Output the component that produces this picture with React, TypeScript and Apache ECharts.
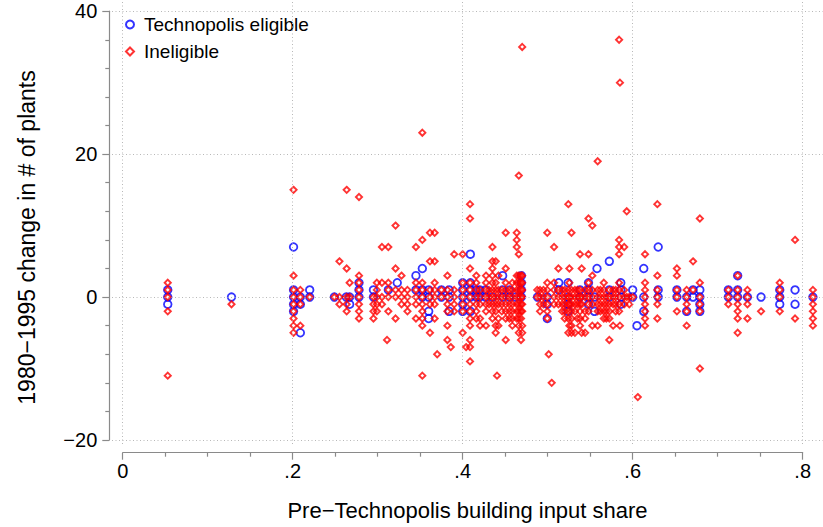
import React, { useEffect, useRef } from "react";
import * as echarts from "echarts";

// ---- data (x = pre-Technopolis building input share, y = 1980-1995 change in # of plants)
const X_TICKS = [0, 0.2, 0.4, 0.6, 0.8];
const X_TICK_LABELS = ["0", ".2", ".4", ".6", ".8"];
const Y_TICKS = [-20, 0, 20, 40];
const Y_TICK_LABELS = ["\u221220", "0", "20", "40"];

const SERIES_NAMES = ["Technopolis eligible", "Ineligible"];
const X_TITLE = "Pre\u2212Technopolis building input share";
const Y_TITLE = "1980\u22121995 change in # of plants";

// columns: [x, list of y values at that x]
const eligibleCols: [number, number[]][] = [
  [0.053, [1, 0, -1]],
  [0.128, [0]],
  [0.201, [7, 1, 0, -1, -2]],
  [0.209, [0, -1, -5]],
  [0.22, [1, 0]],
  [0.249, [0]],
  [0.263, [0]],
  [0.267, [0, -1]],
  [0.278, [2, 1, 0]],
  [0.295, [1, 0]],
  [0.3125, [1]],
  [0.323, [2]],
  [0.345, [3, 1]],
  [0.3525, [4, 1, 0]],
  [0.36, [1, 0, -2, -3]],
  [0.375, [1, 0]],
  [0.384, [1, 0, -2]],
  [0.4, [2, 1, 0, -1, -2]],
  [0.409, [6, 2, 1, 0, -2]],
  [0.416, [1, 0]],
  [0.42, [1, 0]],
  [0.427, [1, 0]],
  [0.435, [0]],
  [0.447, [3, 1, 0]],
  [0.455, [1, 0]],
  [0.462, [0]],
  [0.469, [3, 2, 1, 0]],
  [0.488, [0]],
  [0.4995, [0, -1, -3]],
  [0.513, [2, 1]],
  [0.524, [2, 0, -1, -2]],
  [0.538, [1, 0]],
  [0.548, [2, 1, 0, -1]],
  [0.555, [0, -2]],
  [0.558, [4]],
  [0.5725, [5, 1, 0]],
  [0.586, [2, 1, 0, -1]],
  [0.6, [1, 0]],
  [0.605, [-4]],
  [0.613, [4, 0, -2]],
  [0.63, [7, 1, 0]],
  [0.652, [1, 0]],
  [0.6635, [0, -2]],
  [0.671, [1, 0]],
  [0.679, [1, 0, -1, -2]],
  [0.7125, [1, 0]],
  [0.7235, [3, 1, 0]],
  [0.735, [0]],
  [0.751, [0]],
  [0.773, [1, 0, -1]],
  [0.791, [1, -1]],
  [0.812, [0]],
];

const ineligibleCols: [number, number[]][] = [
  [0.053, [2, 1, 0, -2, -11]],
  [0.128, [-1]],
  [0.201, [15, 3, 1, 0, -1, -2, -3, -4, -5]],
  [0.209, [1, 0, -1, -4]],
  [0.22, [0]],
  [0.249, [0]],
  [0.255, [5, 0, -1]],
  [0.2635, [15, 4, 0, -1, -2]],
  [0.267, [2, 0]],
  [0.278, [14, 3, 2, 1, 0, -1, -2, -3]],
  [0.295, [0, -1, -2, -3]],
  [0.299, [2, 1, 0, -1, -2]],
  [0.305, [7, 2, 0, -1]],
  [0.311, [-6]],
  [0.3125, [7, 2, 1, 0, -2]],
  [0.321, [10, 4, 1, 0, -3]],
  [0.328, [3, 1, 0, -1]],
  [0.335, [1, 0, -1, -2]],
  [0.345, [7, 2, 1, 0, -1, -3]],
  [0.3525, [23, 8, 2, 1, 0, -1, -2, -3, -4, -11]],
  [0.3615, [9, 5, 1, 0, -1, -5]],
  [0.367, [9, 5, 2, 1, 0, -1, -3]],
  [0.37, [-8]],
  [0.375, [1, 0]],
  [0.382, [3, 1, 0, -1, -2, -4, -6]],
  [0.386, [-7]],
  [0.39, [6, 1, 0, -1, -2]],
  [0.4, [6, 2, 1, 0, -1, -2, -5]],
  [0.404, [-7]],
  [0.4086, [13, 11, 4, 2, 1, 0, -1, -2, -3, -4, -6, -7, -9]],
  [0.416, [3, 2, 1, 0, -1, -2, -3]],
  [0.4204, [1, 0, -1, -3, -4]],
  [0.4274, [3, 2, 1, 0, -1, -2, -4]],
  [0.431, [1, 0, -1]],
  [0.435, [7, 5, 4, 3, 2, 1, 0, -1, -2, -3]],
  [0.4388, [5, 2, 1, 0, -1, -2, -4, -5]],
  [0.4404, [-11]],
  [0.442, [3, 1, 0, -1, -3, -4]],
  [0.446, [1, 0, -1, -2]],
  [0.4506, [9, 4, 2, 1, 0, -1, -2, -3, -6]],
  [0.455, [1, 0, -1, -2, -3]],
  [0.4584, [2, 1, 0, -1, -2, -3, -4]],
  [0.4636, [9, 8, 7, 3, 2, 1, 0, -1, -2, -3]],
  [0.466, [17, 6, 3, 2, 1, 0, -1, -2, -3, -4, -5]],
  [0.4686, [3, 2, 1, 0, -1, -2, -3, -6]],
  [0.47, [35, 3, 2, 1, 0, -1, -2, -4, -5]],
  [0.4877, [1, 0]],
  [0.491, [1, 0, -1, -2]],
  [0.495, [1, 0, -1]],
  [0.4995, [9, 2, 1, 0, -1, -2, -3]],
  [0.5012, [-8]],
  [0.5047, [-12]],
  [0.5075, [7, 2, 1, 0, -1]],
  [0.5126, [4, 1, 0, -1]],
  [0.517, [1, 0, -1, -2]],
  [0.52, [1, 0, -1, -2, -3]],
  [0.5243, [13, 1, 0, -1, -2, -3, -5]],
  [0.5255, [4, 2, 0, -1, -4]],
  [0.528, [9, 1, 0, -1, -2, -3, -4, -5]],
  [0.532, [1, 0, -1, -2, -5]],
  [0.535, [1, 0, -1, -3]],
  [0.538, [6, 1, 0, -1, -2, -3, -4]],
  [0.54, [4, 0, -1, -5]],
  [0.544, [1, 0, -2, -3, -5]],
  [0.548, [11, 6, 2, 1, 0, -1, -2]],
  [0.5525, [10, 3, 1, 0, -1, -4]],
  [0.5588, [19, 1, 0, -1, -2, -4]],
  [0.562, [1, 0, -1, -2]],
  [0.566, [2, 1, 0, -1, -2, -3]],
  [0.569, [0, -1, -2, -3]],
  [0.5725, [1, 0, -1, -2, -3, -6]],
  [0.577, [1, 0, -1, -4]],
  [0.58, [1, 0, -1, -2]],
  [0.584, [36, 8, 7, 6, 2, 1, 0, -1, -2]],
  [0.585, [30, -4]],
  [0.59, [7, 1, 0, -1]],
  [0.593, [12, 0]],
  [0.596, [0, -1]],
  [0.6, [0]],
  [0.606, [-14]],
  [0.6145, [6, 2, 1, 0, -1, -2, -3, -4]],
  [0.629, [13, 3, 1, 0, -1, -3]],
  [0.652, [4, 3, 1, 0, -2]],
  [0.6635, [1, 0, -1, -2, -4]],
  [0.671, [5, 1]],
  [0.679, [11, 2, 0, -1, -2, -10]],
  [0.7125, [1, 0, -1]],
  [0.7235, [3, 1, 0, -1, -2, -3, -5]],
  [0.735, [1, 0, -1, -3]],
  [0.751, [-2]],
  [0.773, [2, 1, 0, -2]],
  [0.791, [8, -3]],
  [0.812, [1, 0, -1, -2, -3, -4]],
];

// ---- layout (pixels)
const W = 823;
const H = 527;
const FONT = "'Liberation Sans', Arial, Helvetica, sans-serif";
// axis frame (where 0..0.8 and -20..40 lie)
const AX_LEFT = 122.7;
const AX_RIGHT = 802.7;
const AX_TOP = 11.2;
const AX_BOTTOM = 440;
// plot region (gridlines span)
const PR_LEFT = 112;
const PR_RIGHT = 823;
const PR_TOP = 0;
const PR_BOTTOM = 444;

const flatten = (cols: [number, number[]][]) =>
  cols.flatMap(([x, ys]) => ys.map((y) => [x, y]));

export default function App() {
  const ref = useRef<HTMLDivElement>(null);
  useEffect(() => {
    if (!ref.current) return;
    const chart = echarts.init(ref.current, undefined, { renderer: "svg" });

    const xMin0 = X_TICKS[0], xMax0 = X_TICKS[X_TICKS.length - 1];
    const yMin0 = Y_TICKS[0], yMax0 = Y_TICKS[Y_TICKS.length - 1];
    const pxPerX = (AX_RIGHT - AX_LEFT) / (xMax0 - xMin0);
    const pxPerY = (AX_BOTTOM - AX_TOP) / (yMax0 - yMin0);
    const prXMin = xMin0 - (AX_LEFT - PR_LEFT) / pxPerX;
    const prXMax = xMax0 + (PR_RIGHT - AX_RIGHT) / pxPerX;
    const prYMax = yMax0 + (AX_TOP - PR_TOP) / pxPerY;
    const prYMin = yMin0 - (PR_BOTTOM - AX_BOTTOM) / pxPerY;

    const axisColor = "#8a8a8a";

    const option: any = {
      animation: false,
      backgroundColor: "#ffffff",
      textStyle: { fontFamily: FONT },
      grid: [
        { left: PR_LEFT, right: W - PR_RIGHT, top: PR_TOP, bottom: H - PR_BOTTOM },
        { left: AX_LEFT, right: W - AX_RIGHT, top: AX_TOP, bottom: H - AX_BOTTOM },
      ],
      xAxis: [
        {
          gridIndex: 0, type: "value", min: prXMin, max: prXMax, show: false,
          axisLine: { show: false, onZero: false }, splitLine: { show: false },
        },
        {
          gridIndex: 1,
          type: "value",
          min: xMin0,
          max: xMax0,
          interval: 0.2,
          position: "bottom",
          offset: 12.7,
          axisLine: { show: true, onZero: false, lineStyle: { color: axisColor, width: 1.2 } },
          axisTick: { show: true, length: 7, lineStyle: { color: axisColor, width: 1.2 } },
          minorTick: { show: true, splitNumber: 4, length: 4, lineStyle: { color: axisColor, width: 1.2 } },
          splitLine: { show: false },
          axisLabel: {
            margin: 8,
            fontSize: 20,
            color: "#000",
            fontFamily: FONT,
            formatter: (v: number) => {
              const i = X_TICKS.findIndex((t) => Math.abs(t - v) < 1e-6);
              return i >= 0 ? X_TICK_LABELS[i] : "";
            },
          },
        },
      ],
      yAxis: [
        {
          gridIndex: 0, type: "value", min: prYMin, max: prYMax, show: false,
          axisLine: { show: false, onZero: false }, splitLine: { show: false },
        },
        {
          gridIndex: 1,
          type: "value",
          min: yMin0,
          max: yMax0,
          interval: 20,
          position: "left",
          offset: 13.4,
          axisLine: { show: true, onZero: false, lineStyle: { color: axisColor, width: 1.2 } },
          axisTick: { show: true, length: 7, lineStyle: { color: axisColor, width: 1.2 } },
          minorTick: { show: true, splitNumber: 5, length: 4, lineStyle: { color: axisColor, width: 1.2 } },
          splitLine: { show: false },
          axisLabel: {
            margin: 12,
            fontSize: 20,
            color: "#000",
            fontFamily: FONT,
            formatter: (v: number) => {
              const i = Y_TICKS.findIndex((t) => Math.abs(t - v) < 1e-6);
              return i >= 0 ? Y_TICK_LABELS[i] : "";
            },
          },
        },
      ],
      legend: {
        show: true,
        data: SERIES_NAMES,
        orient: "vertical",
        left: 125,
        top: 14,
        padding: 0,
        itemWidth: 8,
        itemHeight: 8,
        itemGap: 6,
        symbolKeepAspect: true,
        selectedMode: false,
        textStyle: {
          fontSize: 19,
          color: "#000",
          fontFamily: FONT,
          lineHeight: 21,
          padding: [0, 0, 0, 5],
        },
      },
      series: [
        {
          name: SERIES_NAMES[0],
          type: "scatter",
          xAxisIndex: 0,
          yAxisIndex: 0,
          z: 2,
          symbol: "circle",
          symbolSize: 7.6,
          itemStyle: { color: "rgba(0,0,0,0)", borderColor: "#0000ff", borderWidth: 1.8 },
          data: flatten(eligibleCols),
          markLine: {
            silent: true,
            symbol: ["none", "none"],
            label: { show: false },
            lineStyle: { color: "#b8b8b8", width: 1, type: [1, 2.5] },
            emphasis: { disabled: true },
            data: [
              ...X_TICKS.map((v) => ({ xAxis: v })),
              ...Y_TICKS.map((v) => ({ yAxis: v })),
            ],
          },
        },
        {
          name: SERIES_NAMES[1],
          type: "scatter",
          xAxisIndex: 0,
          yAxisIndex: 0,
          z: 3,
          symbol: "diamond",
          symbolSize: 6.2,
          itemStyle: { color: "rgba(0,0,0,0)", borderColor: "#ff0000", borderWidth: 1.9 },
          data: flatten(ineligibleCols),
        },
      ],
      graphic: [
        {
          type: "text",
          x: 27,
          y: 237.5,
          rotation: Math.PI / 2,
          style: {
            text: Y_TITLE,
            font: `23px ${FONT}`,
            fill: "#000",
            textAlign: "center",
            textVerticalAlign: "middle",
            align: "center",
            verticalAlign: "middle",
          },
        },
        {
          type: "text",
          x: 467.5,
          y: 510,
          style: {
            text: X_TITLE,
            font: `22px ${FONT}`,
            fill: "#000",
            textAlign: "center",
            textVerticalAlign: "middle",
            align: "center",
            verticalAlign: "middle",
          },
        },
      ],
    };
    chart.setOption(option);
    return () => chart.dispose();
  }, []);
  return (
    <div
      ref={ref}
      style={{ position: "fixed", left: 0, top: 0, width: W, height: H, background: "#fff" }}
    />
  );
}
